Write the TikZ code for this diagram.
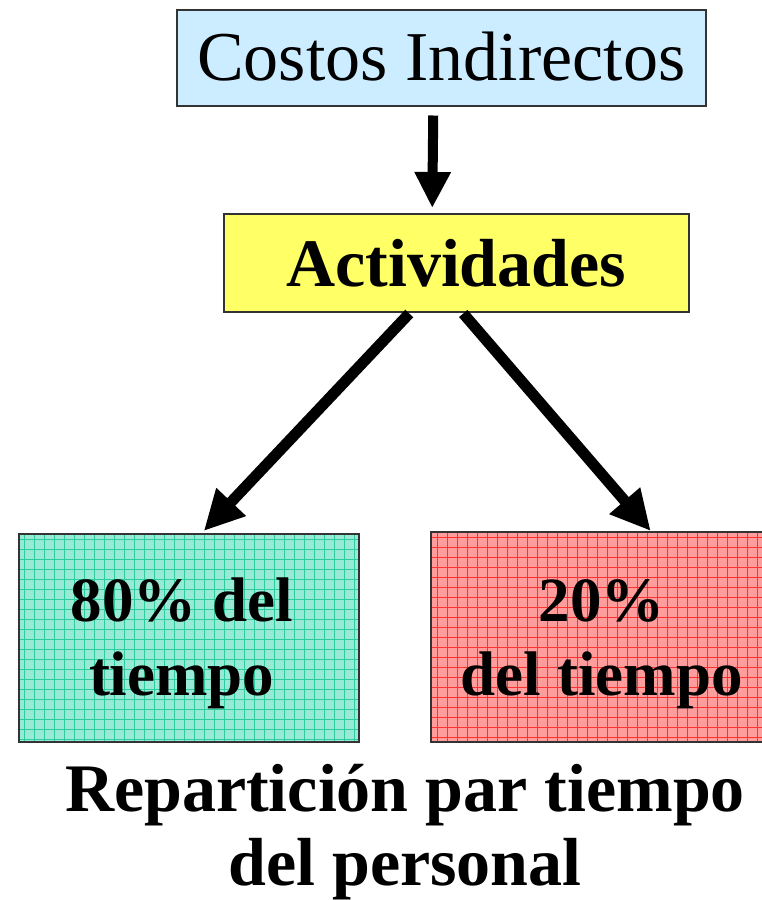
\documentclass[tikz,border=0pt]{standalone}
\usepackage{fontspec}
\setmainfont{Liberation Serif}
\usetikzlibrary{arrows.meta,calc}
\definecolor{cblue}{HTML}{CCECFF}
\definecolor{cyellow}{HTML}{FFFF66}
\definecolor{cgreen}{HTML}{99EAD5}
\definecolor{cgreenline}{HTML}{2CCCA0}
\definecolor{cred}{HTML}{FF9C9C}
\definecolor{credline}{HTML}{FF3030}
\tikzset{
  box/.style={draw=black!80, line width=1.5pt, inner sep=0pt, anchor=north west},
  bigarrow/.style={line width=10pt, -{Triangle[length=36pt,width=34pt]}},
  diagarrow/.style={line width=11pt, -{Triangle[length=40pt,width=38pt]}},
  lbl/.style={align=center, font=\fontsize{63}{74}\selectfont\bfseries},
  biglbl/.style={align=center, font=\fontsize{68}{74}\selectfont\bfseries},
  gridline/.style={line width=0.7pt},
}
\begin{document}
\begin{tikzpicture}[x=1pt,y=-1pt]
\useasboundingbox (0,0) rectangle (762,900);
% top box
\node[box, fill=cblue, minimum width=529pt, minimum height=96pt] (ci) at (176,9) {};
\node[font=\fontsize{70}{76}\selectfont] (citxt) at ($(ci.center)+(0,-1)$) {Costos Indirectos};
% activities box
\node[box, fill=cyellow, minimum width=465pt, minimum height=98pt] (act) at (223,213) {};
\node[font=\fontsize{68}{76}\selectfont\bfseries] (acttxt) at (act.center) {Actividades};
% green box with grid
\fill[cgreen] (18,533) rectangle (358,741);
\begin{scope}
\clip (18,533) rectangle (358,741);
\foreach \x in {24,34,...,358} \draw[cgreenline, gridline] (\x,533) -- (\x,741);
\foreach \y in {539,549,...,741} \draw[cgreenline, gridline] (18,\y) -- (358,\y);
\end{scope}
\node[box, minimum width=340pt, minimum height=208pt] (g) at (18,533) {};
\node[lbl] (gtxt) at ($(g.center)+(-7,6)$) {80\% del\\tiempo};
% red box with grid
\fill[cred] (430,531) rectangle (766,741);
\begin{scope}
\clip (430,531) rectangle (766,741);
\foreach \x in {437,447,...,766} \draw[credline, gridline] (\x,531) -- (\x,741);
\foreach \y in {537,547,...,741} \draw[credline, gridline] (430,\y) -- (766,\y);
\end{scope}
\node[box, minimum width=336pt, minimum height=210pt] (r) at (430,531) {};
\node[lbl] (rtxt) at ($(r.center)+(3,7)$) {20\%\\del tiempo};
% bottom label
\node[biglbl] (rep) at (405,832) {Repartición par tiempo\\del personal};
% arrows
\coordinate (a1s) at ($(ci.south)+(-8,9)$);
\coordinate (a1e) at ($(act.north)+(-24,-5)$);
\draw[bigarrow] (a1s) -- (a1e);
\coordinate (a2s) at ($(act.south)+(-47,1)$);
\coordinate (a2e) at ($(g.north)+(15,-2)$);
\draw[diagarrow] (a2s) -- (a2e);
\coordinate (a3s) at ($(act.south)+(7,1)$);
\coordinate (a3e) at ($(r.north)+(52,0)$);
\draw[diagarrow] (a3s) -- (a3e);
\end{tikzpicture}
\end{document}
